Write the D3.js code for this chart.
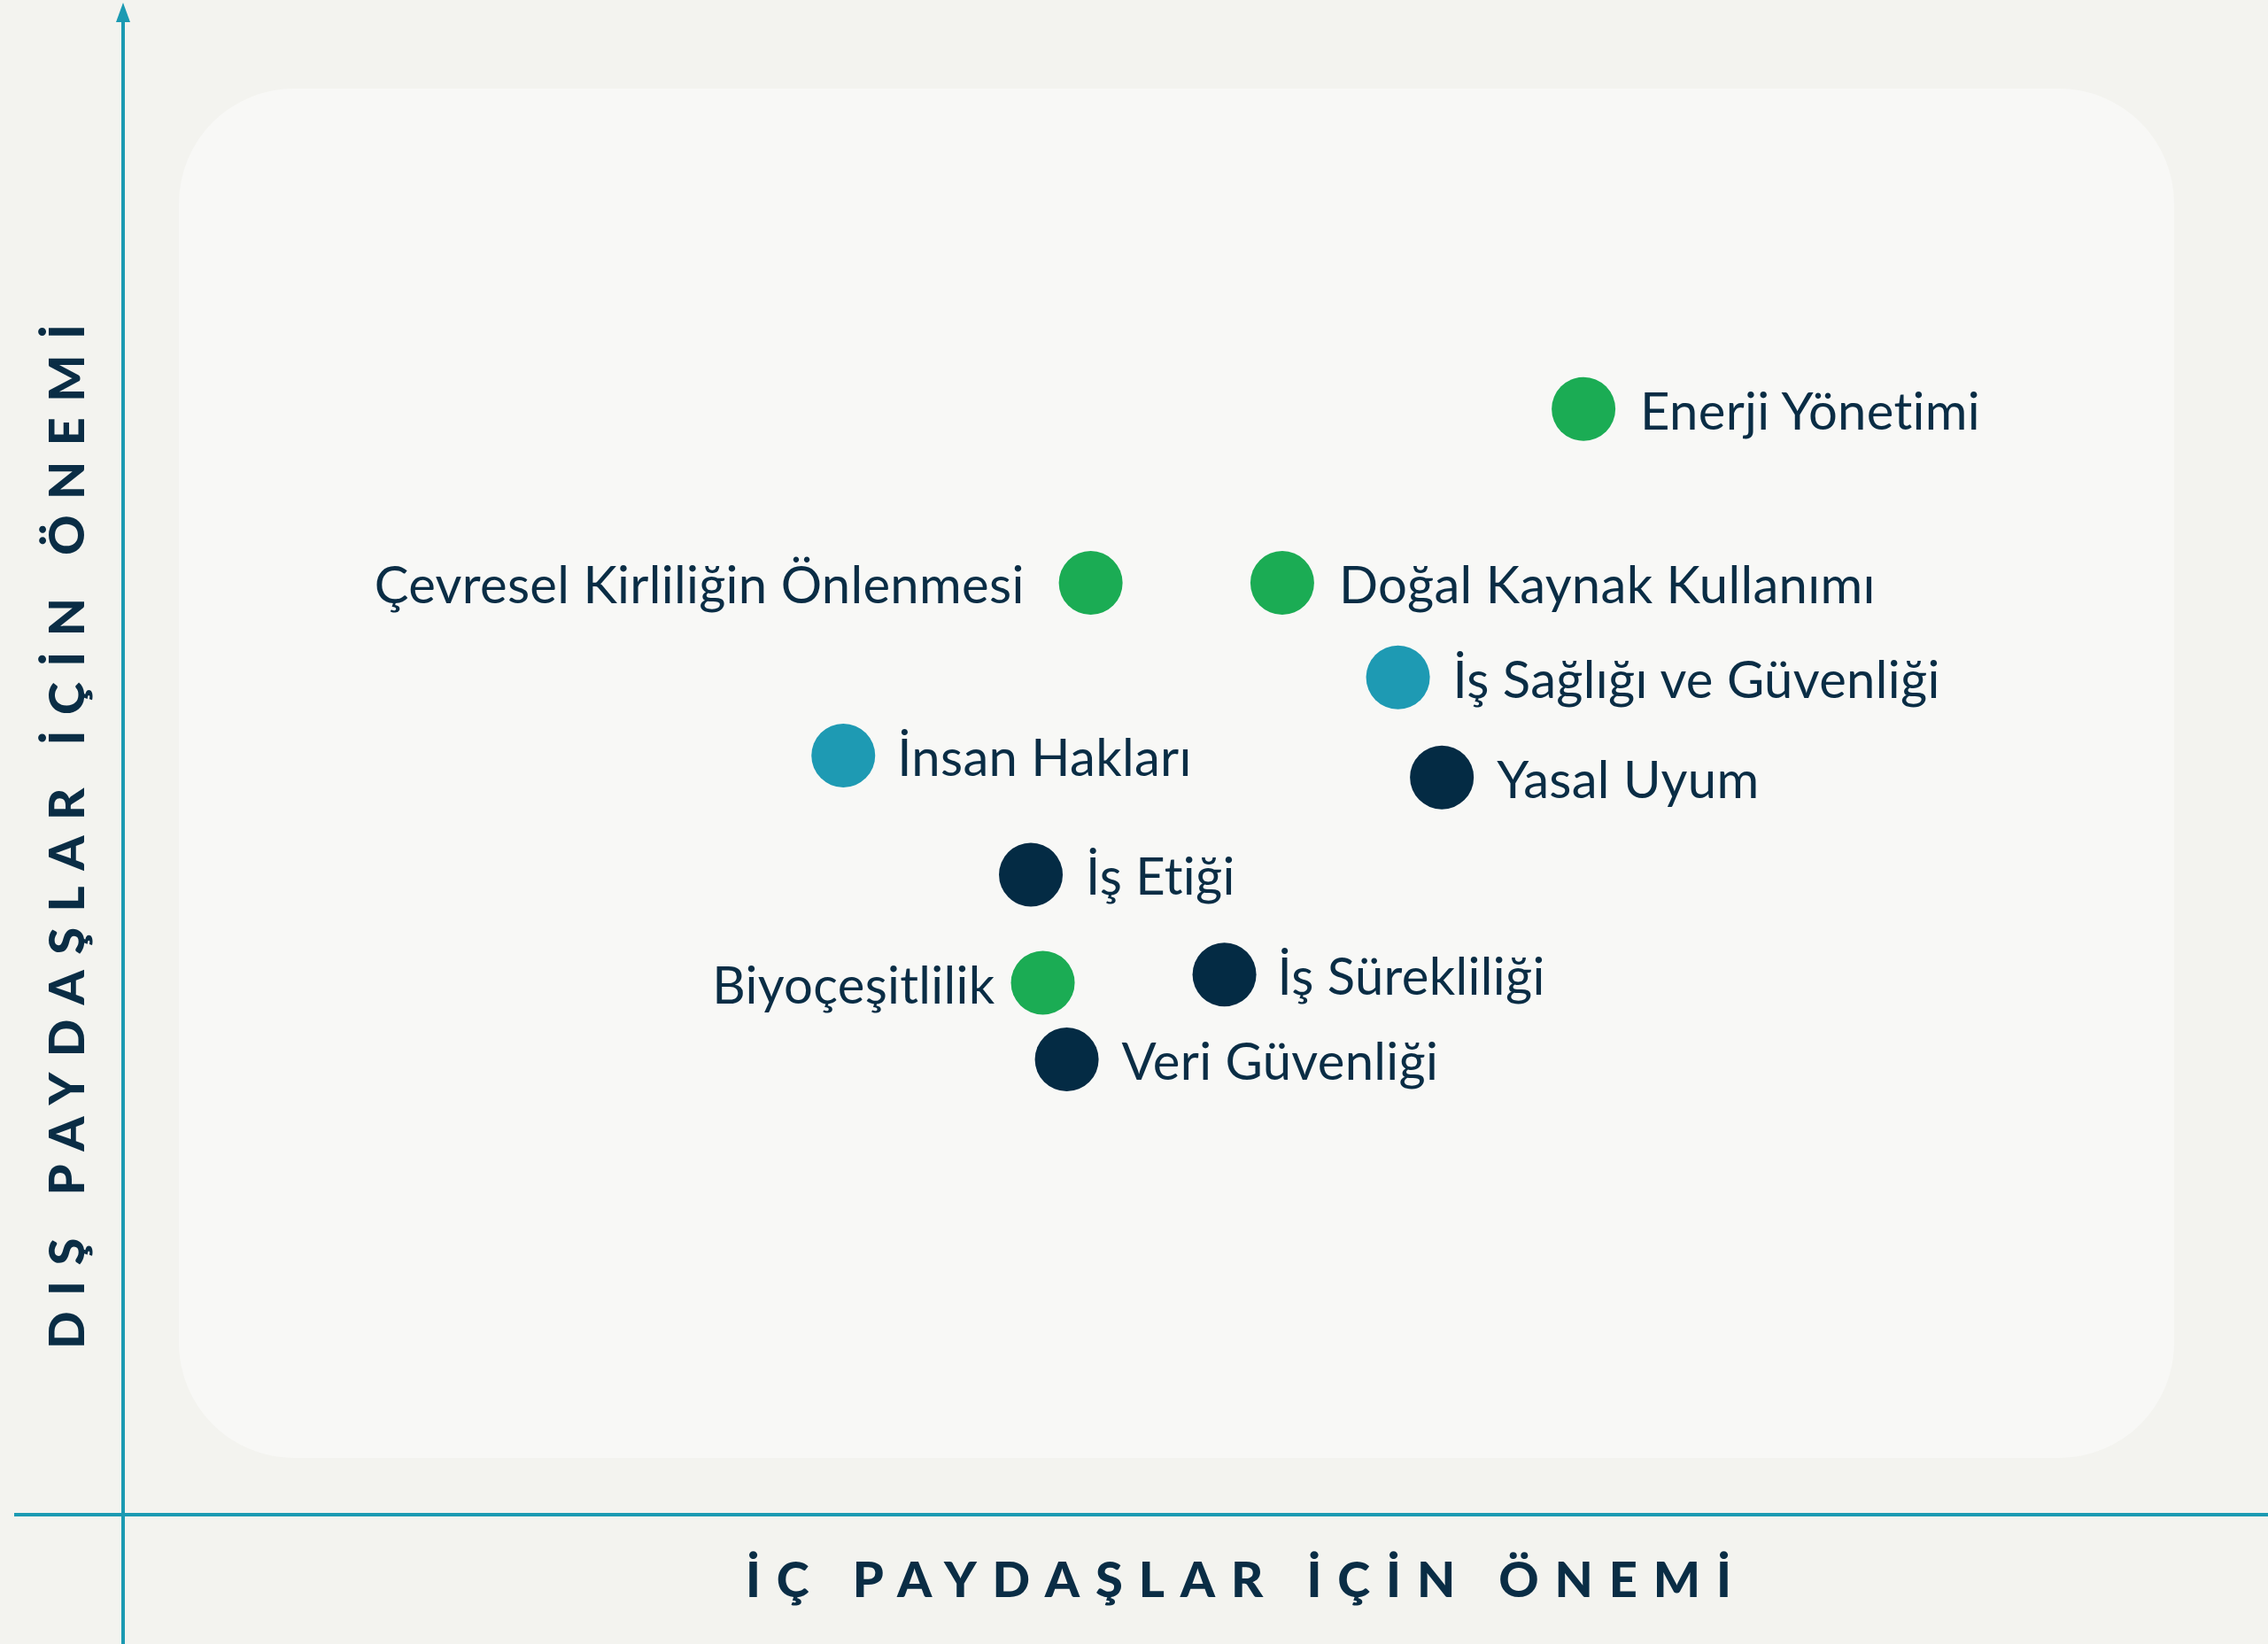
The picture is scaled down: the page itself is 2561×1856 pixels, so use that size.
<!DOCTYPE html>
<html>
<head>
<meta charset="utf-8">
<script src="https://cdn.jsdelivr.net/npm/d3@7/dist/d3.min.js"></script>
<style>
  html, body { margin: 0; padding: 0; background: #f3f3ef; }
  svg { display: block; }
</style>
</head>
<body>
<svg id="chart" width="2561" height="1856"></svg>
<script>
// ---- data ----
const topics = [
  "Enerji Yönetimi",
  "Çevresel Kirliliğin Önlenmesi",
  "Doğal Kaynak Kullanımı",
  "İş Sağlığı ve Güvenliği",
  "İnsan Hakları",
  "Yasal Uyum",
  "İş Etiği",
  "Biyoçeşitlilik",
  "İş Sürekliliği",
  "Veri Güvenliği"
];
const internalImportance = [7.04, 4.57, 5.53, 6.11, 3.33, 6.33, 4.27, 4.33, 5.24, 4.45];
const externalImportance = [7.66, 6.39, 6.39, 5.70, 5.13, 4.97, 4.26, 3.47, 3.53, 2.91];
const groups = ["env", "env", "env", "social", "social", "gov", "gov", "env", "gov", "gov"];
const xTitle = "İÇ PAYDAŞLAR İÇİN ÖNEMİ";
const yTitle = "DIŞ PAYDAŞLAR İÇİN ÖNEMİ";

// ---- layout / style ----
const labelSide = ["right", "left", "right", "right", "right", "right", "right", "left", "right", "right"];
const labelGap = [64, 75, 64, 62, 61, 62, 62, 54, 60, 62];
const groupColor = { env: "#1bac54", social: "#1e9ab3", gov: "#042b44" };
const W = 2561, H = 1856;
const panel = { x0: 202, x1: 2455, y0: 100, y1: 1646, r: 130 };
const axisColor = "#1b9ab2";
const textColor = "#0a2d45";

const svg = d3.select("#chart");
svg.append("rect").attr("width", W).attr("height", H).attr("fill", "#f3f3ef");
svg.append("rect")
  .attr("x", panel.x0).attr("y", panel.y0)
  .attr("width", panel.x1 - panel.x0).attr("height", panel.y1 - panel.y0)
  .attr("rx", panel.r).attr("ry", panel.r)
  .attr("fill", "#f8f8f6");

const x = d3.scaleLinear().domain([0, 10]).range([panel.x0, panel.x1]);
const y = d3.scaleLinear().domain([0, 10]).range([panel.y1, panel.y0]);

// axes
const axisX = 139, axisY = 1710;
svg.append("line").attr("x1", axisX).attr("x2", axisX).attr("y1", 18).attr("y2", H)
  .attr("stroke", axisColor).attr("stroke-width", 4);
svg.append("path").attr("d", `M${axisX},3 L${axisX - 8},25 L${axisX + 8},25 Z`).attr("fill", axisColor);
svg.append("line").attr("x1", 16).attr("x2", W).attr("y1", axisY).attr("y2", axisY)
  .attr("stroke", axisColor).attr("stroke-width", 4);

// titles
svg.append("text")
  .attr("x", 842).attr("y", 1803)
  .attr("textLength", 1113).attr("lengthAdjust", "spacing")
  .attr("font-family", "Lato, sans-serif").attr("font-weight", 900)
  .attr("font-size", 56).attr("fill", textColor)
  .text(xTitle);
svg.append("text")
  .attr("transform", "translate(95,1523) rotate(-90)")
  .attr("x", 0).attr("y", 0)
  .attr("textLength", 1157).attr("lengthAdjust", "spacing")
  .attr("font-family", "Lato, sans-serif").attr("font-weight", 900)
  .attr("font-size", 56).attr("fill", textColor)
  .text(yTitle);

// points
const pts = topics.map((t, i) => ({
  name: t, xv: internalImportance[i], yv: externalImportance[i],
  g: groups[i], side: labelSide[i], gap: labelGap[i]
}));

const g = svg.append("g");
g.selectAll("circle").data(pts).join("circle")
  .attr("cx", d => x(d.xv)).attr("cy", d => y(d.yv))
  .attr("r", 36).attr("fill", d => groupColor[d.g]);

g.selectAll("text.lbl").data(pts).join("text")
  .attr("class", "lbl")
  .attr("x", d => d.side === "right" ? x(d.xv) + d.gap : x(d.xv) - d.gap)
  .attr("y", d => y(d.yv) + 23)
  .attr("text-anchor", d => d.side === "right" ? "start" : "end")
  .attr("font-family", "Lato, sans-serif").attr("font-weight", 400)
  .attr("letter-spacing", 0.3)
  .attr("font-size", 58).attr("fill", textColor)
  .text(d => d.name);
</script>
</body>
</html>
